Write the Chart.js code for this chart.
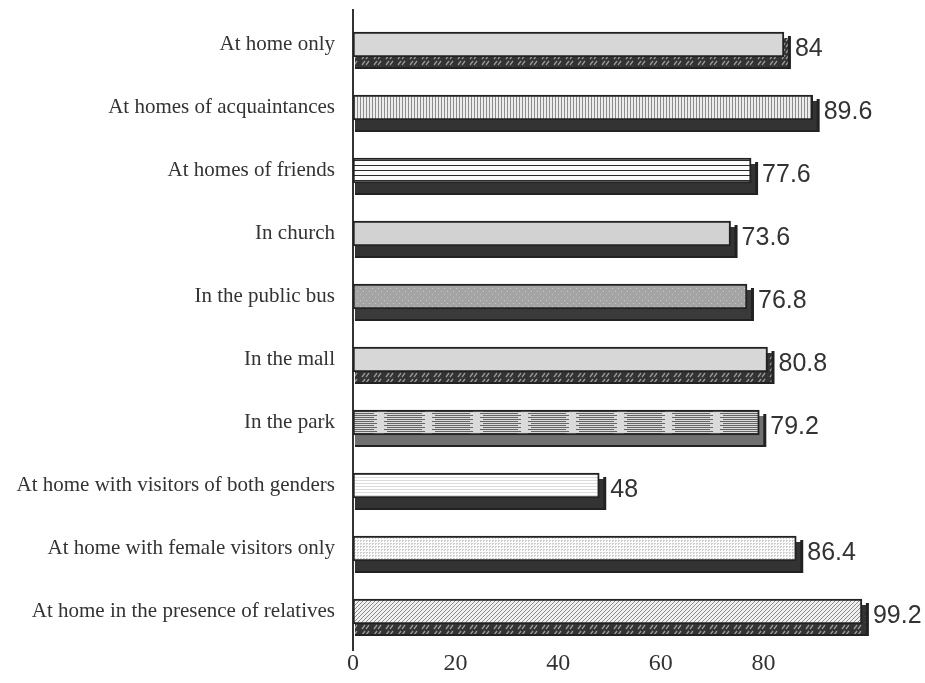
<!DOCTYPE html>
<html>
<head>
<meta charset="utf-8">
<script src="https://cdn.jsdelivr.net/npm/chart.js@4"></script>
<style>
  body { margin: 0; background: #fff; }
  #wrap { width: 925px; height: 683px; position: relative; }
</style>
</head>
<body>
<div id="wrap"><canvas id="barChart"></canvas></div>
<script>
// Dados do gráfico
const categories = [
    'At home only',
    'At homes of acquaintances',
    'At homes of friends',
    'In church',
    'In the public bus',
    'In the mall',
    'In the park',
    'At home with visitors of both genders',
    'At home with female visitors only',
    'At home in the presence of relatives'
];
const values = [84, 89.6, 77.6, 73.6, 76.8, 80.8, 79.2, 48, 86.4, 99.2];
const xTickLabels = [0, 20, 40, 60, 80];

/**
 * Cria um padrão (textura) a partir de um pequeno canvas
 */
function pat(w, h, bg, draw) {
    const c = document.createElement('canvas');
    c.width = w; c.height = h;
    const g = c.getContext('2d');
    g.fillStyle = bg;
    g.fillRect(0, 0, w, h);
    if (draw) draw(g);
    return g.createPattern(c, 'repeat');
}

const facePatterns = [
    pat(4, 4, '#d7d7d7'),
    pat(3, 4, '#ececec', g => { g.fillStyle = '#8c8c8c'; g.fillRect(0, 0, 1, 4); }),
    pat(4, 5, '#fbfbfb', g => { g.fillStyle = '#2a2a2a'; g.fillRect(0, 0, 4, 1); }),
    pat(4, 4, '#d2d2d2'),
    pat(6, 6, '#a4a4a4', g => { g.fillStyle = '#c8c8c8'; g.fillRect(0, 0, 1, 1); g.fillRect(3, 3, 1, 1); }),
    pat(4, 4, '#d7d7d7'),
    pat(48, 4, '#dadada', g => { g.fillStyle = '#666'; g.fillRect(0, 1, 38, 1); g.fillRect(3, 3, 38, 1); }),
    pat(4, 3, '#ffffff', g => { g.fillStyle = '#dcdcdc'; g.fillRect(0, 0, 4, 1); }),
    pat(3, 3, '#fbfbfb', g => { g.fillStyle = '#cccccc'; g.fillRect(0, 0, 1, 1); g.fillRect(1, 0, 1, 1); g.fillRect(0, 1, 1, 1); }),
    pat(4, 4, '#f0f0f0', g => { g.fillStyle = '#8a8a8a'; for (let i = 0; i < 4; i++) g.fillRect(i, 3 - i, 1, 1); })
];

const darkDash = pat(12, 6, '#333', g => {
    g.strokeStyle = '#9a9a9a';
    g.lineWidth = 1.3;
    g.beginPath();
    g.moveTo(2, 5); g.lineTo(5, 1);
    g.moveTo(6, 5); g.lineTo(9, 1);
    g.stroke();
});
const shadowFills = ['dash', '#333', '#333', '#333', '#3a3a3a', 'dash', '#707070', '#333', '#333', 'dash'];

// Plugin: face inferior "3D" de cada barra e prolongamento do eixo
const shadowPlugin = {
    id: 'shadow3d',
    beforeDatasetsDraw(chart) {
        const ctx = chart.ctx;
        const area = chart.chartArea;
        ctx.save();
        ctx.fillStyle = '#333';
        ctx.fillRect(area.left - 1, area.top - 4, 2, area.bottom - area.top + 12);
        chart.getDatasetMeta(0).data.forEach((el, i) => {
            const h = el.height;
            ctx.fillStyle = shadowFills[i] === 'dash' ? darkDash : shadowFills[i];
            ctx.fillRect(el.base + 2, el.y - h / 2 + 6, el.x - el.base + 4, h + 6);
            ctx.fillStyle = '#222';
            ctx.fillRect(el.base + 2, el.y + h / 2 + 10, el.x - el.base + 4, 2);
            ctx.fillRect(el.x + 4, el.y - h / 2 + 4, 3, h + 8);
        });
        ctx.restore();
    }
};

// Plugin: rótulos de valor ao lado das barras
const valueLabels = {
    id: 'valueLabels',
    afterDatasetsDraw(chart) {
        const ctx = chart.ctx;
        ctx.save();
        ctx.font = '25px "Liberation Sans", Arial, sans-serif';
        ctx.fillStyle = '#333';
        ctx.textBaseline = 'middle';
        chart.getDatasetMeta(0).data.forEach((el, i) => {
            ctx.fillText(String(values[i]), el.x + 11, el.y + 5);
        });
        ctx.restore();
    }
};

const ctxBar = document.getElementById('barChart').getContext('2d');
new Chart(ctxBar, {
    type: 'bar',
    data: {
        labels: categories,
        datasets: [{
            data: values,
            backgroundColor: facePatterns,
            borderColor: '#222',
            borderWidth: 2,
            borderSkipped: false,
            barThickness: 25
        }]
    },
    plugins: [shadowPlugin, valueLabels],
    options: {
        indexAxis: 'y',
        responsive: true,
        maintainAspectRatio: false,
        animation: false,
        layout: { padding: { top: 13, right: 59, left: 0, bottom: 0 } },
        plugins: {
            legend: { display: false },
            tooltip: { enabled: false }
        },
        scales: {
            x: {
                min: 0,
                max: 100,
                ticks: {
                    stepSize: 20,
                    padding: 6,
                    color: '#333',
                    font: { family: '"Liberation Serif", "Times New Roman", serif', size: 24 },
                    callback: v => xTickLabels.includes(v) ? v : ''
                },
                grid: { display: false, drawTicks: false },
                border: { display: false },
                afterFit: scale => { scale.height = 40; scale.paddingLeft = 0; scale.paddingRight = 0; }
            },
            y: {
                ticks: {
                    padding: 18,
                    color: '#333',
                    font: { family: '"Liberation Serif", "Times New Roman", serif', size: 21 }
                },
                grid: { display: false, drawTicks: false },
                border: { display: false },
                afterFit: scale => { scale.width = 353; scale.paddingTop = 0; scale.paddingBottom = 0; }
            }
        }
    }
});
</script>
</body>
</html>
